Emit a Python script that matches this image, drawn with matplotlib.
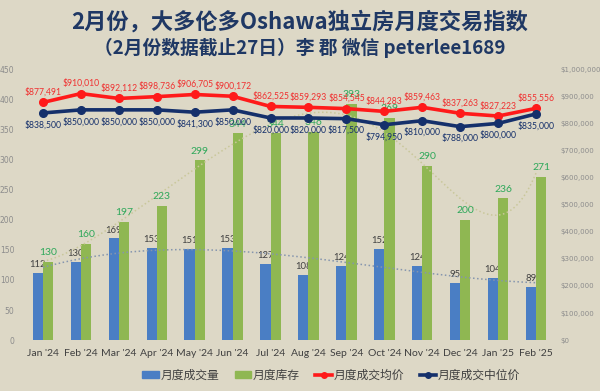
import numpy as np
import matplotlib
matplotlib.use("Agg")
import matplotlib.pyplot as plt
from matplotlib.lines import Line2D
from matplotlib.patches import Patch
from matplotlib.ticker import FuncFormatter

# 数据
months = ["Jan '24", "Feb '24", "Mar '24", "Apr '24", "May '24", "Jun '24", "Jul '24",
          "Aug '24", "Sep '24", "Oct '24", "Nov '24", "Dec '24", "Jan '25", "Feb '25"]
sales = [112, 130, 169, 153, 151, 153, 127, 108, 124, 152, 124, 95, 104, 89]
inventory = [130, 160, 197, 223, 299, 344, 344, 346, 393, 369, 290, 200, 236, 271]
avg_price = [877491, 910010, 892112, 898736, 906705, 900172, 862525,
             859293, 854545, 844283, 859463, 837263, 827223, 855556]
median_price = [838500, 850000, 850000, 850000, 841300, 850000, 820000,
                820000, 817500, 794950, 810000, 788000, 800000, 835000]

BG = "#DDD8C6"
BLUE = "#4A7EC4"
GREEN = "#8FB752"
RED = "#FF1A1A"
NAVY = "#15306B"
CJK = ["Noto Sans CJK SC", "DejaVu Sans"]
NUM = "Lato"

fig = plt.figure(figsize=(6, 3.91), dpi=100, facecolor=BG)
ax = fig.add_axes([0.04, 0.130, 0.885, 0.693])
ax.set_facecolor("none")
x = np.arange(len(months))
w = 0.27

ax.bar(x - w / 2, sales, w, color=BLUE, zorder=2)
ax.bar(x + w / 2, inventory, w, color=GREEN, zorder=2)

# 趋势线（多项式拟合）
xs = np.linspace(0, len(months) - 1, 200)
inv_fit = np.polyval(np.polyfit(x, inventory, 6), xs)
sal_fit = np.polyval(np.polyfit(x, sales, 3), xs)
ax.plot(xs, inv_fit, ls=":", color="#C9C79A", lw=1.1, zorder=3)
ax.plot(xs, sal_fit, ls=":", color="#8595AE", lw=1.1, zorder=3)

for i, v in enumerate(sales):
    ax.annotate(str(v), (i - w / 2, v), xytext=(0, 6), textcoords="offset points",
                ha="center", va="center", fontsize=6.8, color="#404040", family=NUM, zorder=1)
for i, v in enumerate(inventory):
    ax.annotate(str(v), (i + w / 2, v), xytext=(0, 6.5), textcoords="offset points",
                ha="center", va="center", fontsize=7.5, color="#2EA85A", family=NUM, zorder=4)

ax.set_xlim(-0.5, len(months) - 0.5)
ax.set_ylim(0, 450)
ax.set_yticks(range(0, 451, 50))
ax.set_xticks(x)
ax.set_xticklabels(months, fontsize=7.5, color="#404040", family=NUM)
ax.tick_params(axis="both", length=0)
ax.tick_params(axis="x", pad=6)
ax.tick_params(axis="y", pad=7, labelsize=5.5, labelcolor="#8C8C8C")
for s in ax.spines.values():
    s.set_visible(False)

ax2 = ax.twinx()
ax2.plot(x, avg_price, color=RED, lw=2.6, marker="o", ms=5.5, zorder=5)
ax2.plot(x, median_price, color=NAVY, lw=2.6, marker="o", ms=5.5, zorder=5)
for i, v in enumerate(avg_price):
    ax2.annotate(f"${v:,.0f}", (i, v), xytext=(0, 7.5), textcoords="offset points",
                 ha="center", va="center", fontsize=6.2, color="#F03030", family=NUM)
for i, v in enumerate(median_price):
    ax2.annotate(f"${v:,.0f}", (i, v), xytext=(0, -8.5), textcoords="offset points",
                 ha="center", va="center", fontsize=6.2, color=NAVY, family=NUM)
ax2.set_ylim(0, 1000000)
ax2.set_yticks(range(0, 1000001, 100000))
ax2.yaxis.set_major_formatter(FuncFormatter(lambda v, p: f"${v:,.0f}"))
ax2.tick_params(axis="y", length=0, pad=4, labelsize=5, labelcolor="#8C8C8C")
for s in ax2.spines.values():
    s.set_visible(False)

fig.text(0.5, 1 - 22 / 391, "2月份，大多伦多Oshawa独立房月度交易指数", ha="center", va="center",
         fontsize=16, fontweight="bold", color="#1F3864", family=CJK)
fig.text(0.5, 1 - 48 / 391, "（2月份数据截止27日）李 郡 微信 peterlee1689", ha="center", va="center",
         fontsize=13.5, fontweight="bold", color="#1F3864", family=CJK)

handles = [
    Patch(color=BLUE, label="月度成交量"),
    Patch(color=GREEN, label="月度库存"),
    Line2D([], [], color=RED, lw=2.6, marker="o", ms=4, label="月度成交均价"),
    Line2D([], [], color=NAVY, lw=2.6, marker="o", ms=4, label="月度成交中位价"),
]
fig.legend(handles=handles, loc="center", bbox_to_anchor=(0.552, 1 - 375 / 391), ncol=4,
           frameon=False, prop={"family": CJK, "size": 8.5}, labelcolor="#404040",
           handlelength=1.4, handleheight=0.6, handletextpad=0.15, columnspacing=1.3)

fig.savefig("out.png", dpi=100, facecolor=BG)
